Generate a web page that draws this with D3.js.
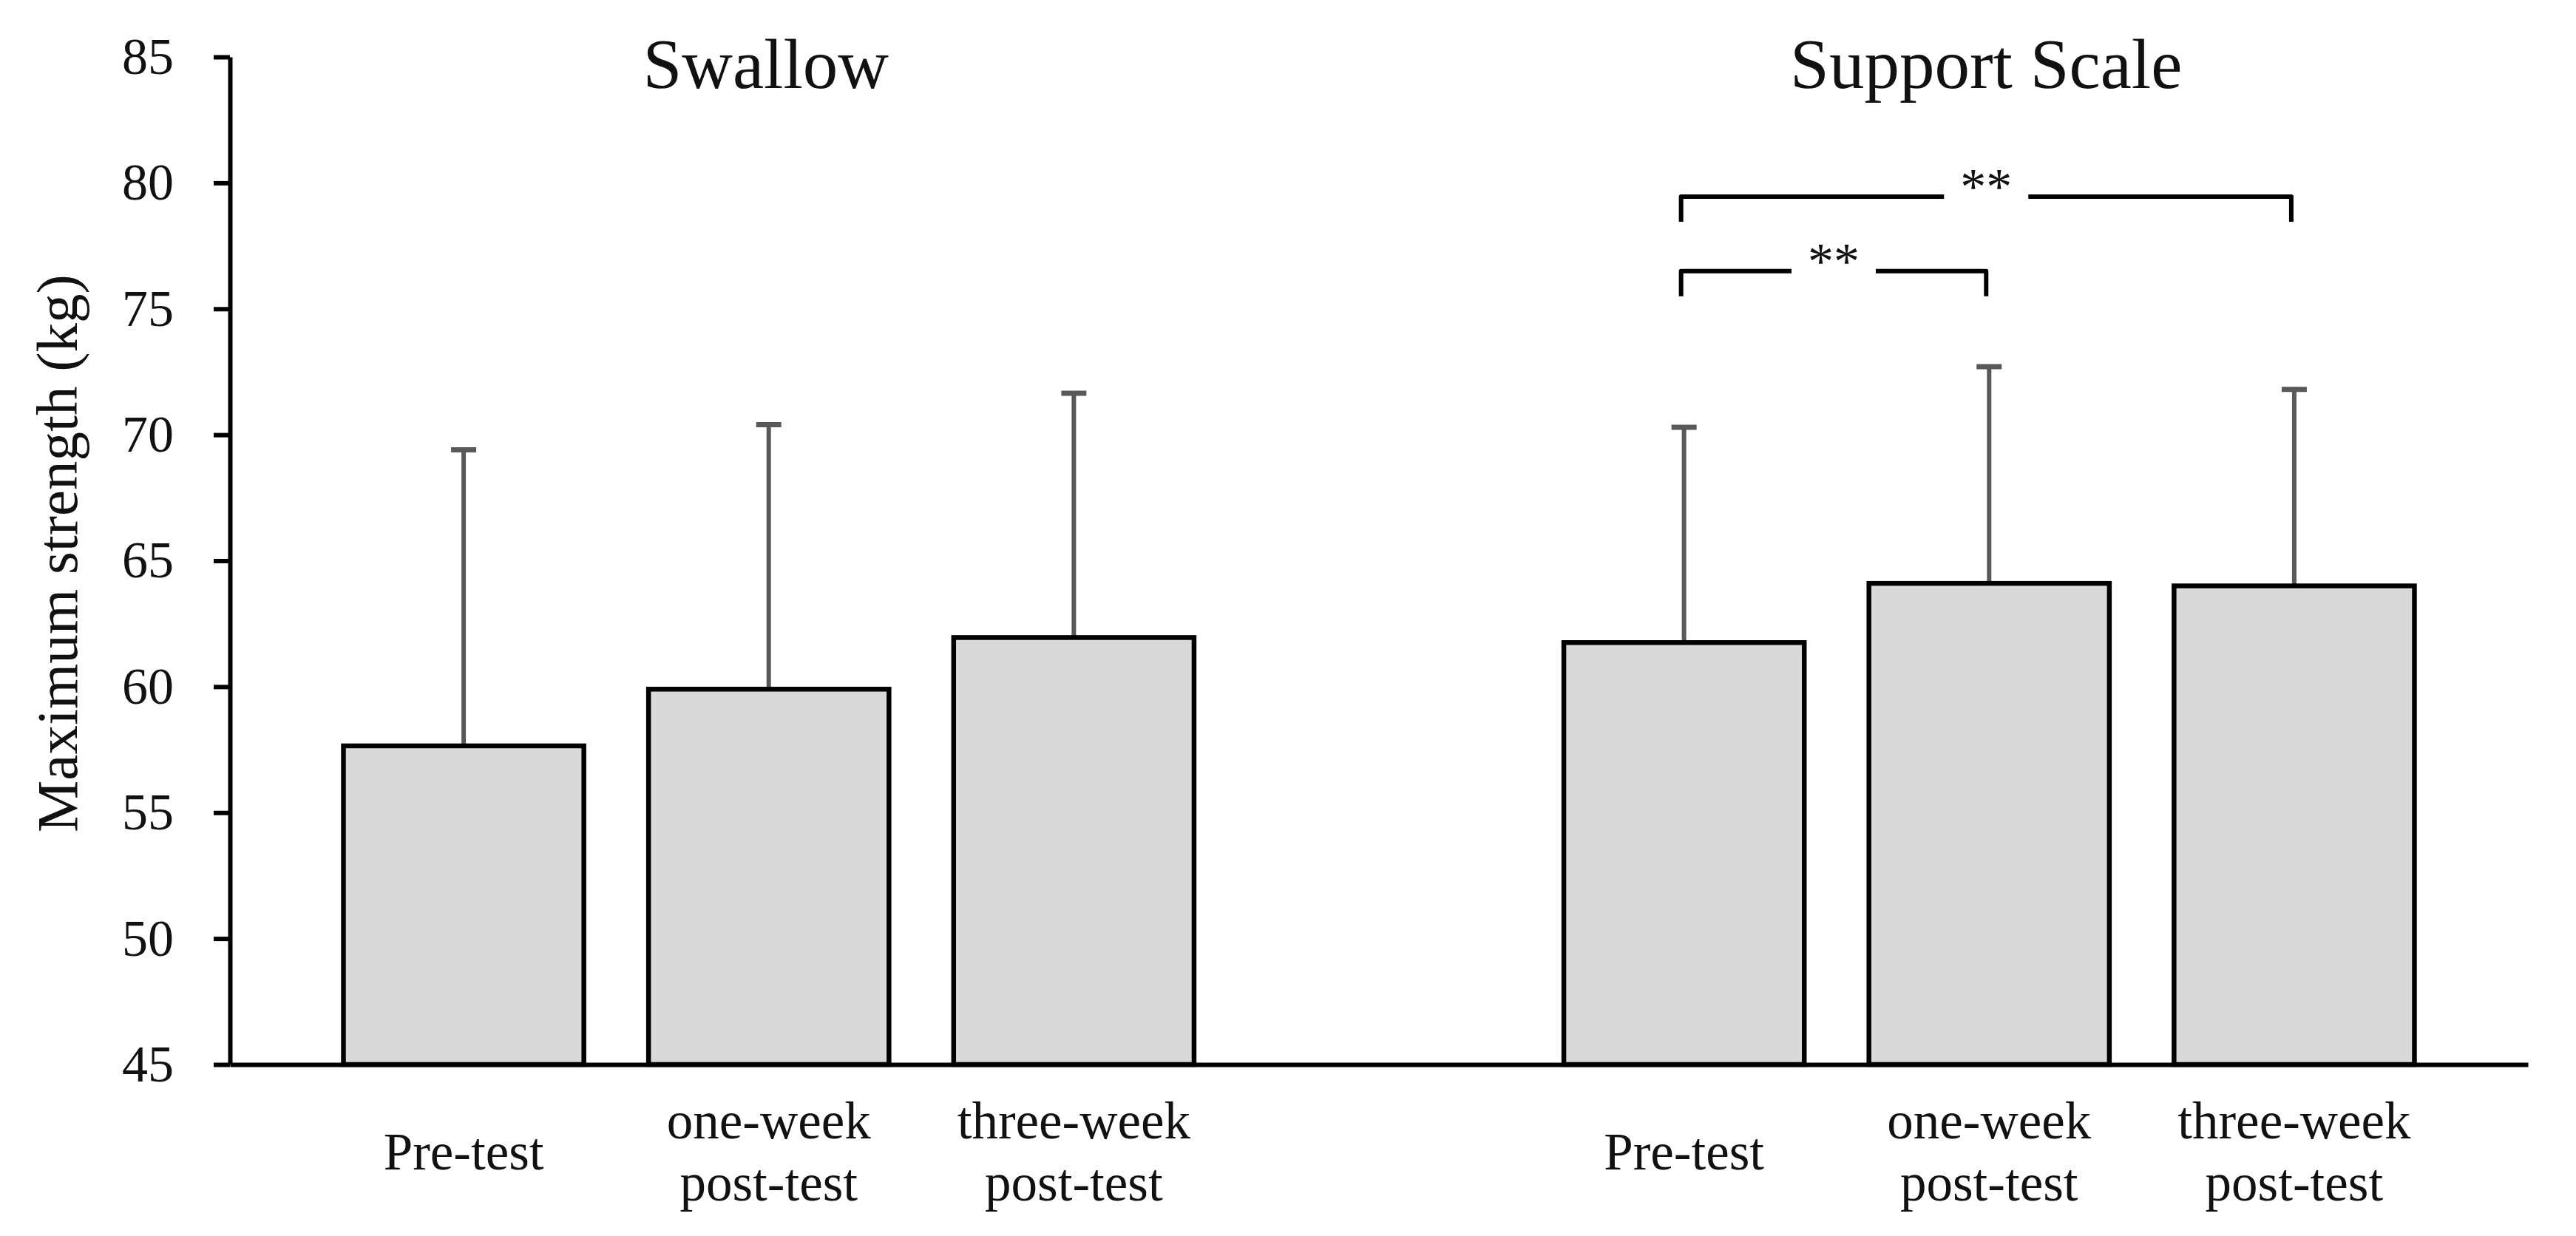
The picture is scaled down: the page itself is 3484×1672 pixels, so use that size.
<!DOCTYPE html>
<html>
<head>
<meta charset="utf-8">
<script src="https://cdn.jsdelivr.net/npm/d3@7"></script>
<style>
  body { margin: 0; background: #fff; }
  text { font-family: "Liberation Serif", "Times New Roman", serif; fill: #111; }
</style>
</head>
<body>
<div id="chart"></div>
<script>
// data
var groups = ["Swallow", "Support Scale"];
var slots = ["sw0", "sw1", "sw2", "gap", "ss0", "ss1", "ss2"];
var slotGroup = [0, 0, 0, -1, 1, 1, 1];
var labelLines = [["Pre-test"], ["one-week", "post-test"], ["three-week", "post-test"], [],
                  ["Pre-test"], ["one-week", "post-test"], ["three-week", "post-test"]];
var means = [57.65, 59.9, 61.95, null, 61.75, 64.1, 64.0];
var sds   = [11.75, 10.5, 9.7, null, 8.55, 8.6, 7.8];
var yTicks = [45, 50, 55, 60, 65, 70, 75, 80, 85];
// significance brackets: from slot, to slot, level (kg)
var sigFrom  = ["ss0", "ss0"];
var sigTo    = ["ss1", "ss2"];
var sigLevel = [76.5, 79.45];
var sigText  = ["**", "**"];

var width = 3484, height = 1672;
var mLeft = 311, mRight = 3419, mTop = 77, mBottom = 1440;

var svg = d3.select("#chart").append("svg")
  .attr("width", width)
  .attr("height", height);

var x = d3.scaleBand().domain(slots).range([mLeft, mRight])
  .paddingInner(0.212).paddingOuter(0.372);
var y = d3.scaleLinear().domain([45, 85]).range([mBottom, mTop]);

var cx = function(s) { return x(s) + x.bandwidth() / 2; };

var bars = slots.map(function(s, i) { return {slot: s, mean: means[i], sd: sds[i]}; })
  .filter(function(d) { return d.mean != null; });

// error bars (upper only) drawn first so bar outline sits on top
var eb = svg.append("g").attr("class", "errorbars");
eb.selectAll("line.stem").data(bars).enter().append("line")
  .attr("class", "stem")
  .attr("x1", function(d) { return cx(d.slot); })
  .attr("x2", function(d) { return cx(d.slot); })
  .attr("y1", function(d) { return y(d.mean); })
  .attr("y2", function(d) { return y(d.mean + d.sd); })
  .attr("stroke", "#595959").attr("stroke-width", 6);
eb.selectAll("line.cap").data(bars).enter().append("line")
  .attr("class", "cap")
  .attr("x1", function(d) { return cx(d.slot) - 17; })
  .attr("x2", function(d) { return cx(d.slot) + 17; })
  .attr("y1", function(d) { return y(d.mean + d.sd); })
  .attr("y2", function(d) { return y(d.mean + d.sd); })
  .attr("stroke", "#595959").attr("stroke-width", 7);

svg.append("g").selectAll("rect").data(bars).enter().append("rect")
  .attr("x", function(d) { return x(d.slot); })
  .attr("y", function(d) { return y(d.mean); })
  .attr("width", x.bandwidth())
  .attr("height", function(d) { return y(45) - y(d.mean); })
  .attr("fill", "#d9d9d9")
  .attr("stroke", "#000")
  .attr("stroke-width", 6.5);

// y axis
var yAxis = svg.append("g")
  .attr("transform", "translate(" + mLeft + ",0)")
  .call(d3.axisLeft(y).tickValues(yTicks).tickSize(22).tickSizeOuter(0).tickPadding(54));
yAxis.select(".domain").attr("stroke", "#000").attr("stroke-width", 6);
yAxis.selectAll(".tick line").attr("stroke", "#000").attr("stroke-width", 6);
yAxis.selectAll(".tick text").attr("font-size", 70).attr("font-family", "Liberation Serif").attr("fill", "#111");

// x axis
var xAxis = svg.append("g")
  .attr("transform", "translate(0," + mBottom + ")")
  .call(d3.axisBottom(x).tickSize(0).tickSizeOuter(0).tickFormat(function() { return ""; }));
xAxis.select(".domain").attr("stroke", "#000").attr("stroke-width", 6);

xAxis.selectAll(".tick text").each(function(d) {
  var lines = labelLines[slots.indexOf(d)];
  var t = d3.select(this).attr("font-size", 71).attr("font-family", "Liberation Serif")
    .attr("fill", "#111").attr("y", 0).attr("dy", null);
  var base = lines.length === 1 ? 142 : 100;
  lines.forEach(function(l, k) {
    t.append("tspan").attr("x", 0).attr("y", base + k * 84).text(l);
  });
});

// y label
svg.append("text")
  .attr("transform", "translate(104," + ((mTop + mBottom) / 2 - 10) + ") rotate(-90)")
  .attr("text-anchor", "middle")
  .attr("font-size", 79)
  .text("Maximum strength (kg)");

// group titles over middle bar
groups.forEach(function(g, gi) {
  var mid = slots.filter(function(s, i) { return slotGroup[i] === gi; })[1];
  svg.append("text")
    .attr("x", cx(mid) - 4)
    .attr("y", 119)
    .attr("text-anchor", "middle")
    .attr("font-size", 95)
    .text(g);
});

// significance brackets
var sig = svg.append("g").attr("class", "sig");
sigFrom.forEach(function(f, i) {
  var x1 = cx(f) - 4, x2 = cx(sigTo[i]) - 4, ly = y(sigLevel[i]);
  var mid = (x1 + x2) / 2, half = 57, drop = 34;
  sig.append("path")
    .attr("d", "M" + x1 + "," + (ly + drop) + "V" + ly + "H" + (mid - half) +
               "M" + (mid + half) + "," + ly + "H" + x2 + "V" + (ly + drop))
    .attr("fill", "none").attr("stroke", "#000").attr("stroke-width", 6)
    .attr("stroke-linejoin", "round");
  sig.append("text")
    .attr("x", mid)
    .attr("y", ly + 10)
    .attr("text-anchor", "middle")
    .attr("font-size", 70)
    .text(sigText[i]);
});
</script>
</body>
</html>
